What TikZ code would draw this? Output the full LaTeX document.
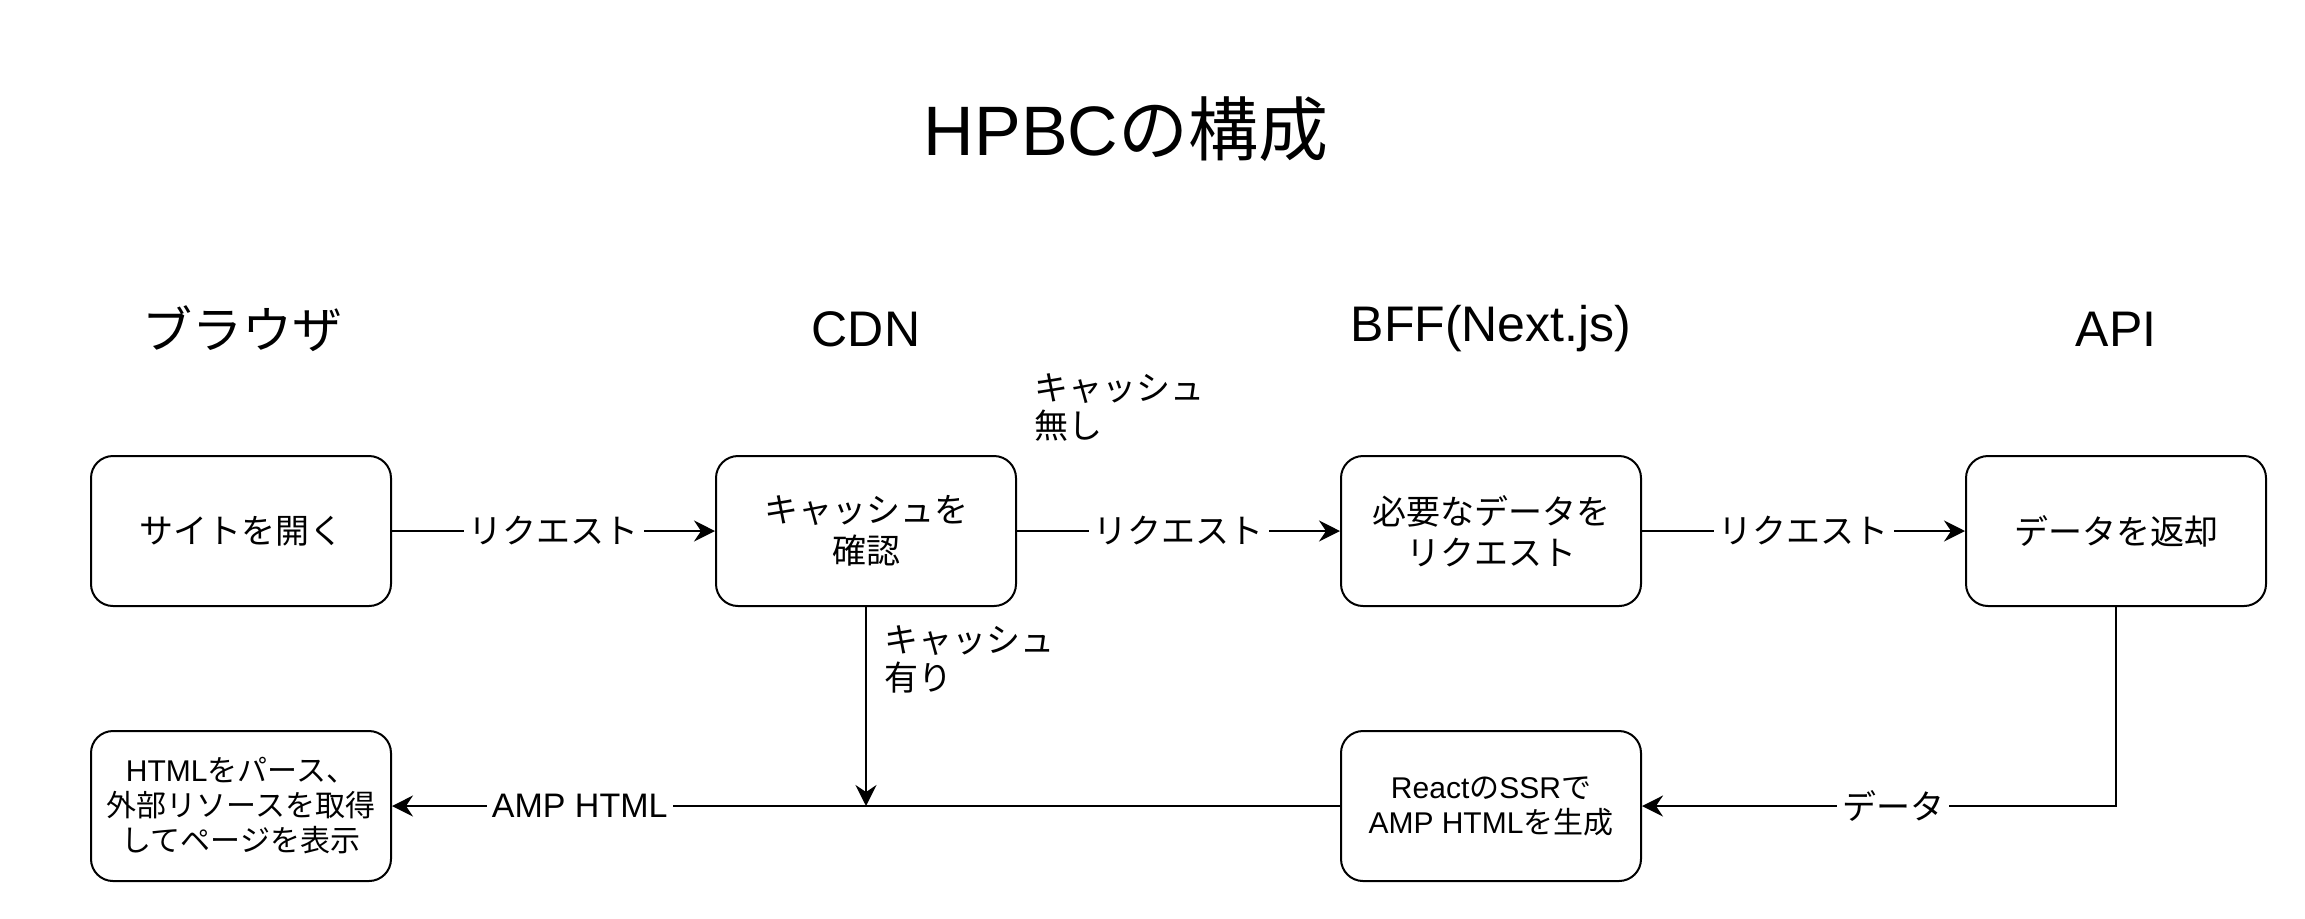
\documentclass[tikz,border=0pt]{standalone}
\usepackage{fontspec}
\setmainfont{Noto Sans CJK JP}
\newfontfamily\lat{Liberation Sans}
\usetikzlibrary{arrows.meta}
\tikzset{
  box/.style={draw, line width=1pt, rounded corners=11pt, minimum width=150pt,
    minimum height=75pt, align=center, inner sep=0pt,
    font=\fontsize{17}{20.5}\selectfont},
  smallbox/.style={box, font=\fontsize{15}{17.5}\selectfont},
  hdr/.style={font=\fontsize{25}{30}\selectfont, inner sep=0pt},
  lbl/.style={fill=white, inner sep=2.5pt, font=\fontsize{17}{20}\selectfont},
  note/.style={anchor=west, align=left, inner sep=0pt, font=\fontsize{17}{19}\selectfont},
  arr/.style={line width=1pt, -{Stealth[length=10.5pt, width=10.5pt, inset=3.5pt]}},
}
\begin{document}
\begin{tikzpicture}[x=0.5pt, y=-0.5pt]
\useasboundingbox (0,0) rectangle (2305,918);
\node[font=\fontsize{35}{40}\selectfont, inner sep=0pt] (title) at (1126,129) {{\lat HPBC}の構成};
\node[hdr] (h1) at (242,329) {ブラウザ};
\node[hdr] (h2) at (866,329) {\lat CDN};
\node[hdr] (h3) at (1491,329) {\lat BFF(Next.js)};
\node[hdr] (h4) at (2116,329) {\lat API};
\node[box] (b1) at (241,531) {サイトを開く};
\node[box] (b2) at (866,531) {キャッシュを\\確認};
\node[box] (b3) at (1491,531) {必要なデータを\\リクエスト};
\node[box] (b4) at (2116,531) {データを返却};
\node[smallbox] (b5) at (241,806) {{\lat HTML}をパース、\\外部リソースを取得\\してページを表示};
\node[smallbox] (b6) at (1491,806) {{\lat React}の{\lat SSR}で\\{\lat AMP HTML}を生成};
\coordinate (j) at (866,806);
\node[note] (n1) at (1034,407) {キャッシュ\\無し};
\node[note] (n2) at (884,659) {キャッシュ\\有り};
\draw[arr] (b1) -- node[lbl] {リクエスト} (b2);
\draw[arr] (b2) -- node[lbl] {リクエスト} (b3);
\draw[arr] (b3) -- node[lbl] {リクエスト} (b4);
\draw[arr] (b4.south) |- node[lbl, pos=0.735] {データ} (b6.east);
\draw[arr] (b6.west) -- node[lbl, pos=0.802] {\lat AMP HTML} (b5.east);
\draw[arr] (b2.south) -- (j);
\end{tikzpicture}
\end{document}
